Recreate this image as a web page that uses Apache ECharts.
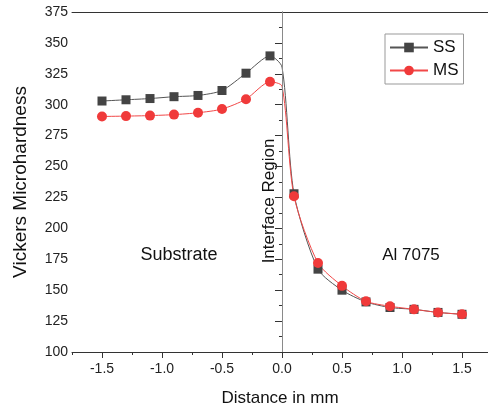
<!DOCTYPE html>
<html><head><meta charset="utf-8">
<script src="https://cdn.jsdelivr.net/npm/echarts@6/dist/echarts.min.js"></script>
<style>html,body{margin:0;padding:0;background:#fff}#c{width:488px;height:407px}</style>
</head><body><div id="c"></div>
<script>
const distances = [-1.5,-1.3,-1.1,-0.9,-0.7,-0.5,-0.3,-0.1,0,0.1,0.3,0.5,0.7,0.9,1.1,1.3,1.5];
const ssValues  = [303,304,305,306.5,307.5,311.5,325.5,339.5,330.5,228,167,150,140.5,136,134.5,132,130.5];
const msValues  = [290.5,290.8,291.2,292,293.5,296.5,304.5,318.5,315,226,172,153.5,141,137,134.5,132,130.5];
const xTickLabels = [-1.5,-1.0,-0.5,0.0,0.5,1.0,1.5];
const xMinorTicks = [-1.75,-1.25,-0.75,-0.25,0.25,0.75,1.25];
const markerless = [0];

function pts(vals){
  return distances.map((d,i)=>{
    const o={value:[d,vals[i]]};
    if(markerless.includes(d)) o.symbol='none';
    return o;
  });
}
const chart = echarts.init(document.getElementById('c'));
const font = 'Arial, "Liberation Sans", sans-serif';
const xMin = -1.75, xMax = 1.7167;
chart.setOption({
  backgroundColor:'#ffffff',
  animation:false,
  grid:{left:72, top:12, right:0, bottom:55, show:false, containLabel:false, outerBoundsMode:'none'},
  legend:{
    left:385, top:34, orient:'vertical', itemWidth:38, itemHeight:12, itemGap:6,
    borderColor:'#999', borderWidth:1, padding:[5,5,5,4],
    textStyle:{fontSize:17, color:'#111', fontFamily:font},
    data:['SS','MS']
  },
  xAxis:[{
    type:'value', min:xMin, max:xMax,
    name:'Distance in mm', nameLocation:'middle', nameGap:38, nameMoveOverlap:false,
    nameTextStyle:{fontSize:17, color:'#111', fontFamily:font},
    axisLine:{show:true, lineStyle:{color:'#333', width:1}},
    axisTick:{show:true, inside:false, length:6, customValues:xTickLabels, lineStyle:{color:'#333'}},
    axisLabel:{customValues:xTickLabels, fontSize:14, color:'#222', margin:10, fontFamily:font,
      formatter:v=>v.toFixed(1)},
    splitLine:{show:false}
  },{
    type:'value', min:xMin, max:xMax, position:'bottom',
    axisLine:{show:false},
    axisTick:{show:true, length:3, customValues:xMinorTicks, lineStyle:{color:'#333'}},
    axisLabel:{show:false}, splitLine:{show:false}
  },{
    type:'value', min:xMin, max:xMax, position:'top',
    axisLine:{show:true, lineStyle:{color:'#333', width:1}},
    axisTick:{show:false}, axisLabel:{show:false}, splitLine:{show:false}
  }],
  yAxis:{
    type:'value', min:100, max:375, interval:25,
    name:'Vickers Microhardness', nameLocation:'middle', nameGap:42,
    nameTextStyle:{fontSize:19, color:'#111', fontFamily:font},
    axisLine:{show:true, lineStyle:{color:'#333', width:1}},
    axisTick:{show:true, length:7, lineStyle:{color:'#333'}},
    minorTick:{show:true, splitNumber:2, length:3, lineStyle:{color:'#333'}},
    axisLabel:{fontSize:14, color:'#222', margin:4, fontFamily:font},
    splitLine:{show:false}
  },
  series:[{
    name:'SS', type:'line', xAxisIndex:0, data:pts(ssValues), smooth:0.25,
    symbol:'rect', symbolSize:9, itemStyle:{color:'#444'}, lineStyle:{color:'#555', width:1},
    markLine:{silent:true, symbol:'none', label:{show:false}, lineStyle:{color:'#8a8a8a', type:'solid', width:1},
      data:[{xAxis:0}]}
  },{
    name:'MS', type:'line', xAxisIndex:0, data:pts(msValues), smooth:0.25,
    symbol:'circle', symbolSize:10, itemStyle:{color:'#f03a3a'}, lineStyle:{color:'#f24848', width:1}
  }],
  graphic:[
    {type:'text', style:{text:'Substrate', x:179, y:255, align:'center', verticalAlign:'middle', fontSize:18, fill:'#111', fontFamily:font}},
    {type:'text', style:{text:'Al 7075', x:411, y:255, align:'center', verticalAlign:'middle', fontSize:17, fill:'#111', fontFamily:font}},
    {type:'text', x:269, y:201, rotation:Math.PI/2, style:{text:'Interface Region', x:0, y:0, align:'center', verticalAlign:'middle', fontSize:17, fill:'#111', fontFamily:font}}
  ]
});
</script></body></html>
